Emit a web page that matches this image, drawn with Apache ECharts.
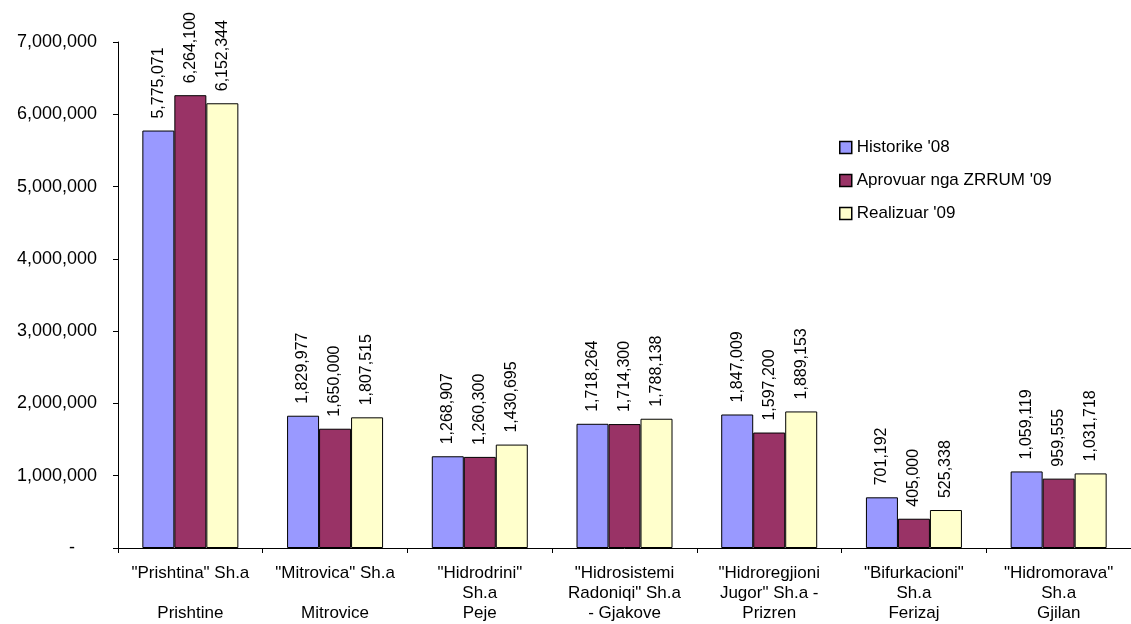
<!DOCTYPE html>
<html><head><meta charset="utf-8">
<script src="https://cdn.jsdelivr.net/npm/echarts@6/dist/echarts.min.js"></script>
<style>html,body{margin:0;padding:0;background:#fff}#c{width:1131px;height:624px}</style>
</head><body><div id="c"></div>
<script>
const categories = ['"Prishtina" Sh.a\n\nPrishtine', '"Mitrovica" Sh.a\n\nMitrovice', '"Hidrodrini"\nSh.a\nPeje', '"Hidrosistemi\nRadoniqi" Sh.a\n- Gjakove', '"Hidroregjioni\nJugor" Sh.a -\nPrizren', '"Bifurkacioni"\nSh.a\nFerizaj', '"Hidromorava"\nSh.a\nGjilan'];
const historike = [5775071, 1829977, 1268907, 1718264, 1847009, 701192, 1059119];
const aprovuar = [6264100, 1650000, 1260300, 1714300, 1597200, 405000, 959555];
const realizuar = [6152344, 1807515, 1430695, 1788138, 1889153, 525338, 1031718];
const seriesNames = ["Historike '08", "Aprovuar nga ZRRUM '09", "Realizuar '09"];
const colors = ['#9999FF', '#993366', '#FFFFCC'];

const FONT = 'Liberation Sans, Arial, sans-serif';
const fmt = v => v === 0 ? '-' : v.toLocaleString('en-US');
const chart = echarts.init(document.getElementById('c'));
const mk = (name, data, color) => ({
  name, type: 'bar', data, barWidth: 32, barGap: '0%',
  itemStyle: { color, borderColor: '#000', borderWidth: 1 },
  label: { show: true, position: 'top', rotate: 90, align: 'left', verticalAlign: 'middle', distance: 12,
    formatter: p => fmt(p.value), fontFamily: FONT, fontSize: 16, color: '#000' }
});
chart.setOption({
  animation: false,
  textStyle: { fontFamily: FONT },
  grid: { left: 118, right: 0, top: 42, bottom: 76, containLabel: false },
  legend: {
    orient: 'vertical', left: 834, top: 134, itemGap: 16, itemWidth: 12, itemHeight: 12,
    icon: 'rect', textStyle: { fontSize: 17, color: '#000', fontFamily: FONT },
    data: seriesNames.map((n, i) => ({ name: n, itemStyle: { color: colors[i], borderColor: '#000', borderWidth: 1.5 } }))
  },
  xAxis: {
    type: 'category', data: categories,
    axisLine: { lineStyle: { color: '#000' } },
    axisTick: { show: true, lineStyle: { color: '#000' }, length: 5 },
    axisLabel: { interval: 0, color: '#000', fontSize: 17, lineHeight: 20, margin: 15, fontFamily: FONT }
  },
  yAxis: {
    type: 'value', min: 0, max: 7000000, interval: 1000000,
    axisLine: { show: true, lineStyle: { color: '#000' } },
    axisTick: { show: true, lineStyle: { color: '#000' }, length: 5 },
    splitLine: { show: false },
    axisLabel: { formatter: v => v === 0 ? '-' : fmt(v), color: '#000', fontSize: 18, margin: 21, fontFamily: FONT,
      padding: 0, rich: {} }
  },
  series: [mk(seriesNames[0], historike, colors[0]), mk(seriesNames[1], aprovuar, colors[1]), mk(seriesNames[2], realizuar, colors[2])]
});
// shift the zero "-" label left like Excel accounting format
chart.setOption({ yAxis: { axisLabel: { formatter: v => v === 0 ? '{z|-}' : fmt(v), rich: { z: { padding: [0, 22, 0, 0], fontSize: 18, fontFamily: FONT, color: '#000' } } } } });
</script></body></html>
